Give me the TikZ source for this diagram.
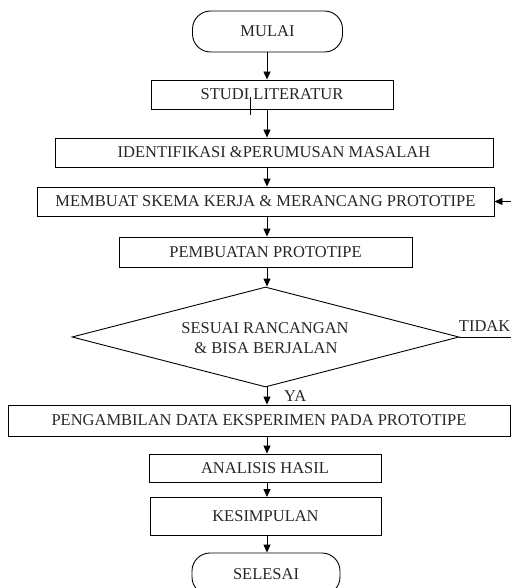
\documentclass[tikz,border=0pt]{standalone}
\usepackage{fontspec}
\setmainfont{Liberation Serif}
\usetikzlibrary{shapes.geometric,arrows.meta}
\begin{document}
\begin{tikzpicture}[x=1pt,y=-1pt,
  every node/.style={font=\fontsize{16.5}{19}\selectfont, text=black!85},
  box/.style={draw, line width=0.9pt, inner sep=0pt, minimum width=#1},
  term/.style={draw, line width=0.9pt, rounded corners=18pt, inner sep=0pt, minimum width=150pt, minimum height=41pt},
  decide/.style={draw, line width=0.9pt, diamond, inner sep=0pt, minimum width=387pt, minimum height=100pt, aspect=3.87},
  flow/.style={line width=0.9pt, -{Triangle[length=8pt,width=7pt]}},
  plain/.style={line width=0.9pt}]
\useasboundingbox (0,0) rectangle (511,588);
\clip (0,0) rectangle (511,588);

% main spine of the flow
\coordinate (axis) at (267,0);

% process steps
\node[term] (mulai) at (267.5,31.5) {MULAI};
\node[box=242pt, minimum height=29pt] (studi) at (272,94.5) {STUDI LITERATUR};
\node[box=438pt, minimum height=29pt] (ident) at (274,152.5) {IDENTIFIKASI \&PERUMUSAN MASALAH};
\node[box=457pt, minimum height=29pt] (skema) at (265.5,201.5) {MEMBUAT SKEMA KERJA \& MERANCANG PROTOTIPE};
\node[box=293pt, minimum height=30pt] (buat) at (265.5,252) {PEMBUATAN PROTOTIPE};
\node[decide] (cek) at (265.5,337) {};
\node (cekA) at (265,328) {SESUAI RANCANGAN};
\node (cekB) at (266,348) {\& BISA BERJALAN};
\node[box=502pt, minimum height=31pt] (data) at (259,420.5) {PENGAMBILAN DATA EKSPERIMEN PADA PROTOTIPE};
\node[box=232pt, minimum height=28pt] (analisis) at (265,468) {ANALISIS HASIL};
\node[box=231pt, minimum height=38pt] (simpul) at (265.5,516.5) {KESIMPULAN};
\node[term, minimum width=148pt, minimum height=42pt] (selesai) at (266,574) {SELESAI};

% small stroke over the literature step
\draw[line width=0.6pt] (250,97) -- (250,115);

% downward connectors
\draw[flow] (mulai.south -| axis) -- (studi.north -| axis);
\draw[flow] (studi.south -| axis) -- (ident.north -| axis);
\draw[flow] (ident.south -| axis) -- (skema.north -| axis);
\draw[flow] (skema.south -| axis) -- (buat.north -| axis);
\draw[flow] (buat.south -| axis) -- (cek.north -| axis);
\draw[flow] (cek.south -| axis) -- (data.north -| axis);
\draw[flow] (data.south -| axis) -- (analisis.north -| axis);
\draw[flow] (analisis.south -| axis) -- (simpul.north -| axis);
\draw[flow] (simpul.south -| axis) -- (selesai.north -| axis);

% branch labels
\node[anchor=west, inner sep=0pt] (ya) at (284,396) {YA};
\node[anchor=east, inner sep=0pt] (tidak) at (510.5,326) {TIDAK};

% the "no" branch leaving right and returning to the design step
\coordinate (outR) at (511,337);
\coordinate (backR) at (511,201.5);
\draw[plain] (cek.east) -- (outR);
\draw[flow] (backR) -- (skema.east);
\end{tikzpicture}
\end{document}
